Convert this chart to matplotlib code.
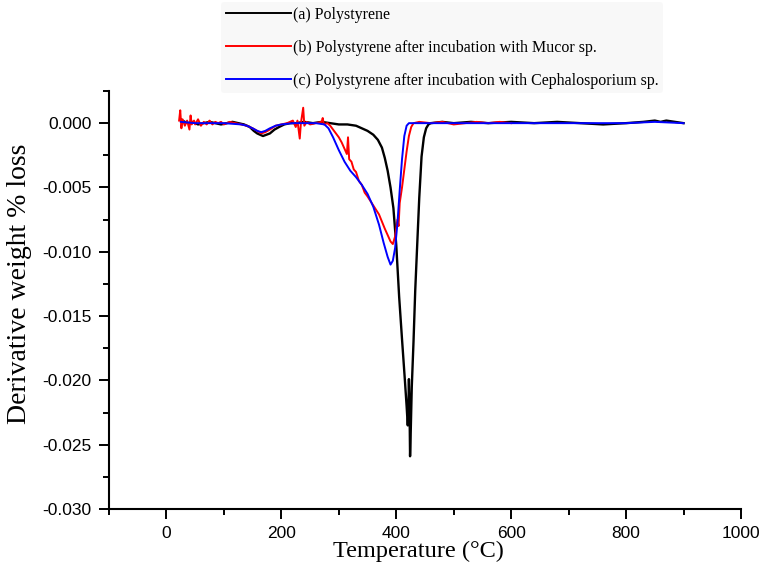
import matplotlib
matplotlib.use("Agg")
import matplotlib.pyplot as plt
from matplotlib.ticker import MultipleLocator, FormatStrFormatter

# (a) Polystyrene
temp_a = [25, 28, 32, 38, 45, 55, 65, 75, 85, 95, 105, 115, 125, 135, 145, 152, 158, 163, 168, 174,
          180, 188, 196, 205, 215, 225, 240, 255, 270, 285, 300, 315, 330, 340, 350, 360, 368, 375,
          380, 385, 390, 395, 400, 405, 410, 415, 418, 420, 421, 422, 423, 424, 425, 427, 430, 433,
          436, 440, 444, 448, 452, 456, 460, 480, 500, 530, 560, 600, 640, 680, 720, 760, 800, 830,
          850, 860, 870, 885, 900]
dtg_a = [0.0003, 0.0002, 0.0001, 0.0, 0.0001, -0.0001, 0.0, 0.0001, 0.0, -0.0001, 0.0, 0.0001,
         0.0, -0.0001, -0.0003, -0.0006, -0.0008, -0.0009, -0.0010, -0.0009,
         -0.0008, -0.0005, -0.0003, -0.0001, 0.0, 0.0, 0.0001, 0.0, 0.0001, 0.0, -0.0001, -0.0001,
         -0.0002, -0.0004, -0.0006, -0.0009, -0.0013, -0.0019,
         -0.0027, -0.0037, -0.0050, -0.0066, -0.0095, -0.0135, -0.0168, -0.0200, -0.0220, -0.0235,
         -0.0226, -0.0199, -0.0218, -0.0259, -0.0243, -0.0205, -0.0170, -0.0130,
         -0.0099, -0.0058, -0.0026, -0.0011, -0.0004, -0.0001, 0.0, 0.0001, 0.0, 0.0001, 0.0,
         0.0001, 0.0, 0.0001, 0.0, -0.0001, 0.0, 0.0001, 0.0002, 0.0001, 0.0002, 0.0001, 0.0]

# (b) Polystyrene after incubation with Mucor sp.
temp_b = [22, 24, 26, 28, 32, 36, 40, 42, 44, 48, 50, 55, 60, 65, 70, 75, 80, 85, 90, 95, 100,
          110, 120, 130, 140, 150, 158, 165, 172, 180, 190, 200, 210, 220, 225, 228, 232, 234,
          238, 240, 244, 250, 260, 270, 272, 274, 280, 285, 290, 295, 300, 305, 310, 314, 316,
          318, 322, 326, 330, 335, 340, 345, 350, 360, 370, 380, 385, 390, 394, 398, 402, 404,
          406, 410, 414, 418, 422, 426, 430, 440, 460, 480, 500, 520, 540, 560, 580, 600]
dtg_b = [0.0002, 0.0010, -0.0004, 0.0003, -0.0002, 0.0002, -0.0005, 0.0006, -0.0001, 0.0002,
         -0.0001, 0.0003, -0.0002, 0.0001, -0.0001, 0.0002, -0.0001, 0.0001, 0.0, 0.0001, -0.0001,
         0.0001, 0.0, -0.0001, -0.0002, -0.0004, -0.0006, -0.0008, -0.0007, -0.0005, -0.0002,
         -0.0001, 0.0, 0.0002, -0.0003, 0.0002, -0.0012, 0.0,
         0.0012, -0.0002, 0.0001, -0.0001, 0.0, 0.0001, 0.0004, -0.0001, 0.0, -0.0002, -0.0005,
         -0.0008, -0.0011, -0.0015, -0.0020, -0.0024, -0.0011,
         -0.0028, -0.0030, -0.0036, -0.0038, -0.0045, -0.0048, -0.0054, -0.0057, -0.0064, -0.0071,
         -0.0082, -0.0087, -0.0092, -0.0094, -0.0088, -0.0075, -0.0080,
         -0.0062, -0.0050, -0.0036, -0.0022, -0.0010, -0.0003, 0.0, 0.0001, 0.0, 0.0001, -0.0001,
         0.0, 0.0001, 0.0, 0.0001, 0.0]

# (c) Polystyrene after incubation with Cephalosporium sp.
temp_c = [25, 50, 100, 130, 140, 150, 158, 165, 172, 180, 190, 200, 220, 260, 275, 282, 290, 300,
          310, 320, 330, 340, 350, 360, 370, 378, 385, 390, 394, 398, 402, 406, 410, 414, 418, 422,
          500, 600, 700, 800, 850, 900]
dtg_c = [0.0001, 0.0, 0.0, -0.0001, -0.0002, -0.0004, -0.0006, -0.0007, -0.0006, -0.0004, -0.0002,
         -0.0001, 0.0, 0.0, -0.0001, -0.0004, -0.0011, -0.0021,
         -0.0030, -0.0037, -0.0042, -0.0048, -0.0055, -0.0065, -0.0079, -0.0093, -0.0104, -0.0110,
         -0.0107, -0.0097, -0.0078, -0.0052, -0.0028, -0.0010, -0.0002, 0.0,
         0.0, 0.0, 0.0, 0.0, 0.0001, 0.0]

labels = ["(a) Polystyrene",
          "(b) Polystyrene after incubation with Mucor sp.",
          "(c) Polystyrene after incubation with Cephalosporium sp."]

fig = plt.figure(figsize=(7.61, 5.71), dpi=100)
ax = fig.add_axes([109 / 761, 1 - 509 / 571, (741 - 109) / 761, (509 - 91) / 571])

la, = ax.plot(temp_a, dtg_a, color="black", lw=1.7, label=labels[0])
lb, = ax.plot(temp_b, dtg_b, color="#ff0000", lw=1.4, label=labels[1])
lc, = ax.plot(temp_c, dtg_c, color="#0000ff", lw=1.4, label=labels[2])

ax.set_xlim(-100, 1000)
ax.set_ylim(-0.030, 0.0025)
ax.xaxis.set_major_locator(MultipleLocator(200))
ax.xaxis.set_minor_locator(MultipleLocator(100))
ax.yaxis.set_major_locator(MultipleLocator(0.005))
ax.yaxis.set_minor_locator(MultipleLocator(0.0025))
ax.yaxis.set_major_formatter(FormatStrFormatter("%.3f"))

for s in ["top", "right"]:
    ax.spines[s].set_visible(False)
for s in ["left", "bottom"]:
    ax.spines[s].set_linewidth(1.5)

ax.tick_params(which="major", direction="out", length=7, width=1.4, labelsize=12.5)
ax.tick_params(axis="y", which="major", pad=5.5)
ax.tick_params(axis="x", which="major", pad=5)
ax.tick_params(which="minor", direction="out", length=4, width=1.4)
for t in ax.get_xticklabels() + ax.get_yticklabels():
    t.set_fontfamily("Liberation Sans")

ax.set_xlabel("Temperature (°C)", fontfamily="Liberation Serif", fontsize=17.5, labelpad=0)
ax.xaxis.label.set_x(0.49)
ax.set_ylabel("Derivative weight % loss", fontfamily="Liberation Serif", fontsize=20)
ax.yaxis.set_label_coords(-0.122, 0.538)

leg = fig.legend(handles=[la, lb, lc], loc="upper left", bbox_to_anchor=(213 / 761, 1.01),
                 prop={"family": "Liberation Serif", "size": 11.5}, handlelength=4.1,
                 handletextpad=0.1, labelspacing=1.05, frameon=True, borderpad=0.3)
leg.get_frame().set_facecolor("#f7f7f7")
leg.get_frame().set_edgecolor("none")
for line in leg.get_lines():
    line.set_linewidth(1.4)

fig.savefig("out.png", dpi=100)
